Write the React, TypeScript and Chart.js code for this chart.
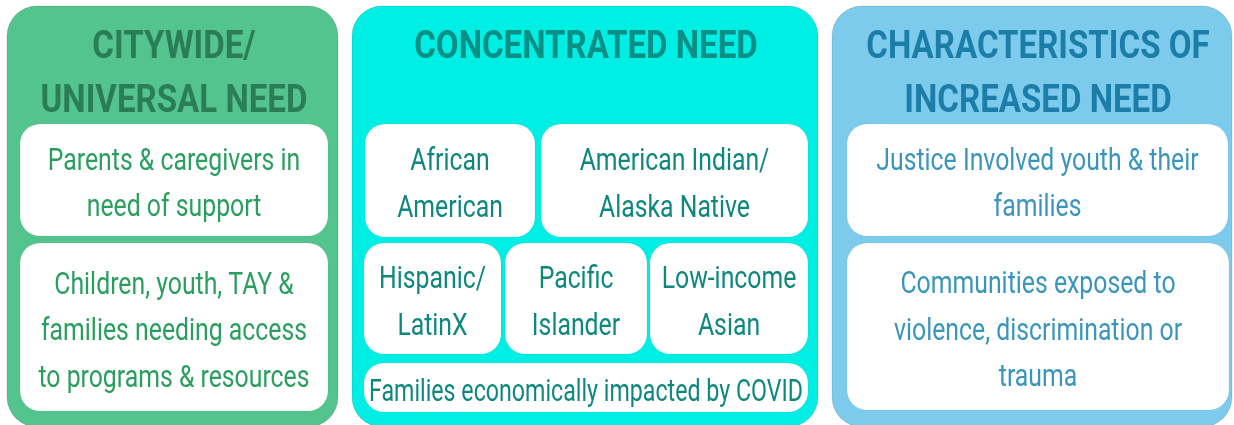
import React, { useEffect, useRef } from "react";
import { Chart, registerables } from "chart.js";

Chart.register(...registerables);

// ---- content (data) ----
const panelTitles: string[][] = [
  ["CITYWIDE/", "UNIVERSAL NEED"],
  ["CONCENTRATED NEED"],
  ["CHARACTERISTICS OF", "INCREASED NEED"],
];
const citywideItems: string[][] = [
  ["Parents & caregivers in", "need of support"],
  ["Children, youth, TAY &", "families needing access", "to programs & resources"],
];
const concentratedItems: string[][] = [
  ["African", "American"],
  ["American Indian/", "Alaska Native"],
  ["Hispanic/", "LatinX"],
  ["Pacific", "Islander"],
  ["Low-income", "Asian"],
  ["Families economically impacted by COVID"],
];
const increasedItems: string[][] = [
  ["Justice Involved youth & their", "families"],
  ["Communities exposed to", "violence, discrimination or", "trauma"],
];

// ---- layout & style (kept separate from content) ----
type Rect = [number, number, number, number];
const panelRects: Rect[] = [
  [7, 6, 338, 427],
  [352, 6, 818, 427],
  [832, 6, 1232, 427],
];
const boxRects: Rect[][] = [
  [
    [20, 124, 328, 236],
    [20, 243, 328, 411],
  ],
  [
    [365, 124, 535, 237],
    [541, 124, 808, 237],
    [364, 243, 501, 354],
    [505, 243, 647, 354],
    [650, 243, 808, 354],
    [364, 363, 808, 412],
  ],
  [
    [847, 124, 1228, 236],
    [847, 243, 1229, 410],
  ],
];
const panelColors = ["#53c48d", "#00eee3", "#7dcbec"];
const titleColors = ["#2b7d56", "#0a8f86", "#1c7ea8"];
const textColors = ["#2a9e5f", "#0e877e", "#3a95bc"];
const FONT = "Roboto, 'DejaVu Sans', sans-serif";
const TITLE_SIZE = 38;
const BODY_SIZE = 31;
const TITLE_SCALE = 0.87;
const BODY_SCALE = 0.8;

const itemsByPanel = [citywideItems, concentratedItems, increasedItems];

const infographicPlugin = {
  id: "infographic",
  afterDraw(chart: any) {
    const { ctx } = chart;
    const xs = chart.scales.x;
    const ys = chart.scales.y;
    const px = (v: number) => xs.getPixelForValue(v);
    const py = (v: number) => ys.getPixelForValue(v);

    const rrect = (r: Rect, rad: number, fill: string, stroke?: string) => {
      const x0 = px(r[0]);
      const x1 = px(r[2]);
      const y0 = py(r[1]);
      const y1 = py(r[3]);
      ctx.beginPath();
      ctx.roundRect(x0, y0, x1 - x0, y1 - y0, rad);
      ctx.fillStyle = fill;
      ctx.fill();
      if (stroke) {
        ctx.lineWidth = 1;
        ctx.strokeStyle = stroke;
        ctx.stroke();
      }
    };

    const drawText = (
      text: string,
      cx: number,
      baseline: number,
      font: string,
      scale: number,
      color: string,
      maxW?: number
    ) => {
      ctx.save();
      ctx.font = font;
      ctx.fillStyle = color;
      ctx.textAlign = "center";
      ctx.textBaseline = "alphabetic";
      let s = scale;
      if (maxW) {
        const w = ctx.measureText(text).width;
        s = Math.min(scale, maxW / w);
      }
      ctx.translate(cx, baseline);
      ctx.scale(s, 1);
      ctx.fillText(text, 0, 0);
      ctx.restore();
    };

    ctx.save();
    panelRects.forEach((pr, i) => {
      rrect(pr, 30, panelColors[i], "rgba(0,0,0,0.12)");
      const boxes = boxRects[i];
      const minX = Math.min(...boxes.map((b) => b[0]));
      const maxX = Math.max(...boxes.map((b) => b[2]));
      const tcx = px((minX + maxX) / 2);
      panelTitles[i].forEach((line, li) => {
        drawText(
          line,
          tcx,
          py(58 + li * 54),
          `bold ${TITLE_SIZE}px ${FONT}`,
          TITLE_SCALE,
          titleColors[i]
        );
      });
      boxes.forEach((b, bi) => {
        rrect(b, 20, "#ffffff", "rgba(0,0,0,0.05)");
        const lines = itemsByPanel[i][bi];
        const cx = px((b[0] + b[2]) / 2);
        const cy = (b[1] + b[3]) / 2;
        const lh = 46.5;
        const maxW = px(b[2]) - px(b[0]) - 10;
        lines.forEach((line, li) => {
          const base = cy + (li - (lines.length - 1) / 2) * lh + 13;
          drawText(
            line,
            cx,
            py(base),
            `${BODY_SIZE}px ${FONT}`,
            BODY_SCALE,
            textColors[i],
            maxW
          );
        });
      });
    });
    ctx.restore();
  },
};

export default function App() {
  const ref = useRef<HTMLCanvasElement | null>(null);
  useEffect(() => {
    document.body.style.margin = "0";
    if (!ref.current) return;
    const chart = new Chart(ref.current, {
      type: "scatter",
      data: { datasets: [] },
      options: {
        animation: false,
        responsive: false,
        layout: { padding: 0 },
        plugins: { legend: { display: false }, tooltip: { enabled: false } },
        scales: {
          x: { type: "linear", min: 0, max: 1234, display: false },
          y: { type: "linear", min: 0, max: 425, reverse: true, display: false },
        },
      },
      plugins: [infographicPlugin],
    });
    return () => chart.destroy();
  }, []);
  return (
    <div style={{ width: 1234, height: 425 }}>
      <canvas ref={ref} width={1234} height={425} style={{ display: "block" }} />
    </div>
  );
}
